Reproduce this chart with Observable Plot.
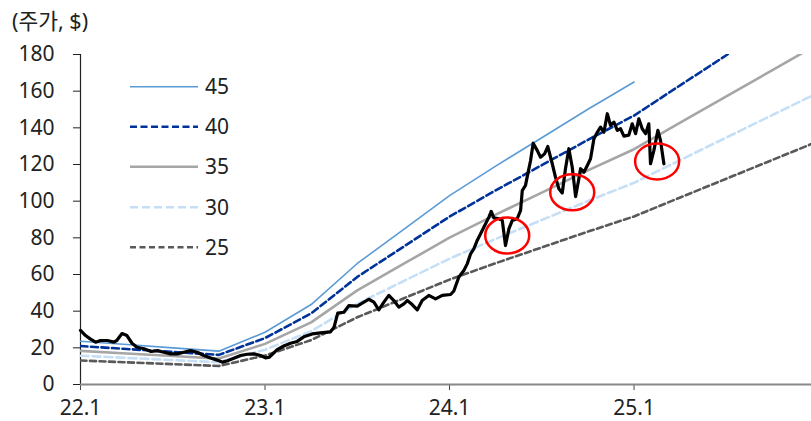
<!DOCTYPE html>
<html><head><meta charset="utf-8">
<script src="https://cdn.jsdelivr.net/npm/d3@7"></script>
<script src="https://cdn.jsdelivr.net/npm/@observablehq/plot@0.6"></script>
<style>
body{margin:0;background:#fff;}
#wrap{position:relative;width:811px;height:421px;font-family:"Noto Sans","Noto Sans CJK KR",sans-serif;}
#title{position:absolute;left:12px;top:6px;font-size:21.5px;line-height:30px;color:#222;white-space:nowrap;}
#legend{position:absolute;left:0;top:0;pointer-events:none;}
svg{display:block;}
</style></head><body><div id="wrap"><div id="title">(주가, $)</div></div>
<script>
// x: months since Jan 2022
const xTickMonths = [0, 12, 24, 36];
const xTickLabels = ["22.1", "23.1", "24.1", "25.1"];
const yTicks = [0, 20, 40, 60, 80, 100, 120, 140, 160, 180];

// PER band multiples and forward EPS (quarterly)
const multiples = [45, 40, 35, 30, 25];
const bandLastMonth = [36, 48, 48, 48, 48];
const quarterMonths = [0, 3, 6, 9, 12, 15, 18, 21, 24, 27, 30, 33, 36, 39, 42, 45, 48];
const eps = [0.524, 0.484, 0.444, 0.404, 0.633, 0.969, 1.467, 1.878, 2.289, 2.647, 2.991, 3.336, 3.667, 4.08, 4.49, 4.90, 5.31];

// stock price
const priceMonths = [0,0.33,0.63,0.98,1.30,1.74,2.17,2.36,2.70,3.02,3.35,3.67,4.13,4.59,5.01,5.42,5.85,6.29,6.72,7.15,7.59,8.02,8.46,8.89,9.24,9.56,9.97,10.41,10.84,11.27,11.71,12.03,12.29,12.79,13.22,13.66,14.09,14.52,15.07,15.61,16.26,16.49,16.73,17.13,17.45,18.00,18.43,18.75,19.08,19.40,19.73,20.05,20.38,20.70,21.03,21.25,21.57,21.90,22.22,22.65,23.09,23.53,24.07,24.28,24.60,24.93,25.15,25.37,25.58,25.80,26.02,26.23,26.56,26.71,26.88,27.21,27.43,27.64,27.86,28.08,28.40,28.62,28.73,28.94,29.09,29.27,29.44,29.70,29.92,30.18,30.39,30.68,30.89,31.11,31.33,31.54,31.76,31.98,32.20,32.41,32.52,32.74,32.96,33.17,33.39,33.61,33.82,34.04,34.26,34.47,34.69,34.91,35.12,35.34,35.66,35.88,36.10,36.31,36.53,36.75,36.96,37.07,37.29,37.55,37.72,37.94];
const priceValues = [29.5,26.7,24.9,23.1,24,24,23.1,24,27.8,26.7,22.5,20.3,19.5,18,18.5,17.6,16.7,16.7,17.6,18.5,17.6,15.8,14.5,13.3,12.2,13,14.3,15.8,16.5,16.7,15.8,14.5,14.9,19,21,22.5,23.5,26,27.6,28.2,28.7,31.3,38.9,39.4,43,42.8,44.9,46.5,44.9,40.7,44.9,48.6,45.8,42.2,44,45.8,43.6,40.7,45.8,48.6,46.7,48.6,49.1,51,58.5,62.2,65.8,71.3,74,78.6,82.2,85.8,91.3,94.4,90.9,90.4,89.5,75.8,84.9,89.5,90.4,94.9,105.8,108.6,114.9,122.2,131.6,127.7,124,125.8,129.8,120.4,113.1,106.8,104.5,117.7,128.6,118.5,102.5,112.2,117.7,115.8,119.5,123.1,134,137.6,140.4,137.6,147.7,141.3,143.1,138.6,139.5,135.5,136,142.2,136.8,144.9,139.5,136.8,142.2,120.4,127.7,138.6,133.1,120.4];

// highlighted dips
const circleMonths = [27.75, 31.98, 37.5];
const circleValues = [81.3, 104.9, 121.7];

// styles
const bandStroke = ["#5B9BD5", "#003399", "#A6A6A6", "#C5DFF7", "#595959"];
const bandWidth = [1.6, 2.6, 2.6, 2.6, 2.6];
const bandDash = [null, "7,3.5", null, "8,4", "6,3.5"];

const price = priceMonths.map((m, i) => ({m, v: priceValues[i]}));
const circles = circleMonths.map((m, i) => ({m, v: circleValues[i]}));

const ellipseSymbol = {
  draw(ctx) {
    const rx = 22, ry = 18, k = 0.5523;
    ctx.moveTo(rx, 0);
    ctx.bezierCurveTo(rx, k * ry, k * rx, ry, 0, ry);
    ctx.bezierCurveTo(-k * rx, ry, -rx, k * ry, -rx, 0);
    ctx.bezierCurveTo(-rx, -k * ry, -k * rx, -ry, 0, -ry);
    ctx.bezierCurveTo(k * rx, -ry, rx, -k * ry, rx, 0);
    ctx.closePath();
  }
};

const bandMarks = multiples.map((mult, j) => {
  const rows = quarterMonths
    .map((m, i) => ({m, v: eps[i] * mult}))
    .filter(d => d.m <= bandLastMonth[j]);
  const opts = {x: "m", y: "v", stroke: bandStroke[j], strokeWidth: bandWidth[j], clip: true};
  if (bandDash[j]) opts.strokeDasharray = bandDash[j];
  return Plot.line(rows, opts);
}).reverse();

const chart = Plot.plot({
  width: 811, height: 421,
  marginLeft: 80, marginRight: 0, marginTop: 54, marginBottom: 37,
  x: {domain: [0, 47.54]},
  y: {domain: [0, 180]},
  style: {fontFamily: '"Noto Sans","Noto Sans CJK KR",sans-serif', fontSize: "21px", color: "#222", background: "transparent", overflow: "visible"},
  marks: [
    Plot.axisY({ticks: yTicks, tickSize: 7, tickPadding: 19, fontSize: 21, label: null, tickFormat: d => String(d)}),
    Plot.axisX({ticks: xTickMonths, tickSize: 6, tickPadding: 10, fontSize: 21, label: null, stroke: "#444",
      tickFormat: d => xTickLabels[xTickMonths.indexOf(d)]}),
    Plot.ruleX([0], {y1: 0, y2: 180, stroke: "#222", strokeWidth: 1.2}),
    ...bandMarks,
    Plot.ruleY([0], {stroke: "#888", strokeWidth: 1.8}),
    Plot.line(price, {x: "m", y: "v", stroke: "#000", strokeWidth: 3.2, strokeLinejoin: "round"}),
    Plot.dot(circles, {x: "m", y: "v", symbol: ellipseSymbol, r: 20, fill: "none", stroke: "#FF0000", strokeWidth: 2.5})
  ]
});

const wrap = document.getElementById("wrap");
wrap.insertBefore(chart, wrap.firstChild);

// legend overlay
const legendY = [86.7, 126.7, 166.7, 207.3, 247.3];
const leg = d3.select(wrap).append("svg").attr("id", "legend").attr("width", 811).attr("height", 421);
multiples.forEach((mult, j) => {
  const g = leg.append("g").attr("transform", `translate(0,${legendY[j]})`);
  const ln = g.append("line").attr("x1", 130).attr("x2", 198).attr("y1", 0).attr("y2", 0)
    .attr("stroke", bandStroke[j]).attr("stroke-width", bandWidth[j]);
  if (bandDash[j]) ln.attr("stroke-dasharray", bandDash[j]);
  g.append("text").attr("x", 205).attr("y", 0).attr("dy", "0.35em")
    .attr("font-family", '"Noto Sans","Noto Sans CJK KR",sans-serif').attr("font-size", 21).attr("fill", "#222")
    .text(String(mult));
});
</script></body></html>
